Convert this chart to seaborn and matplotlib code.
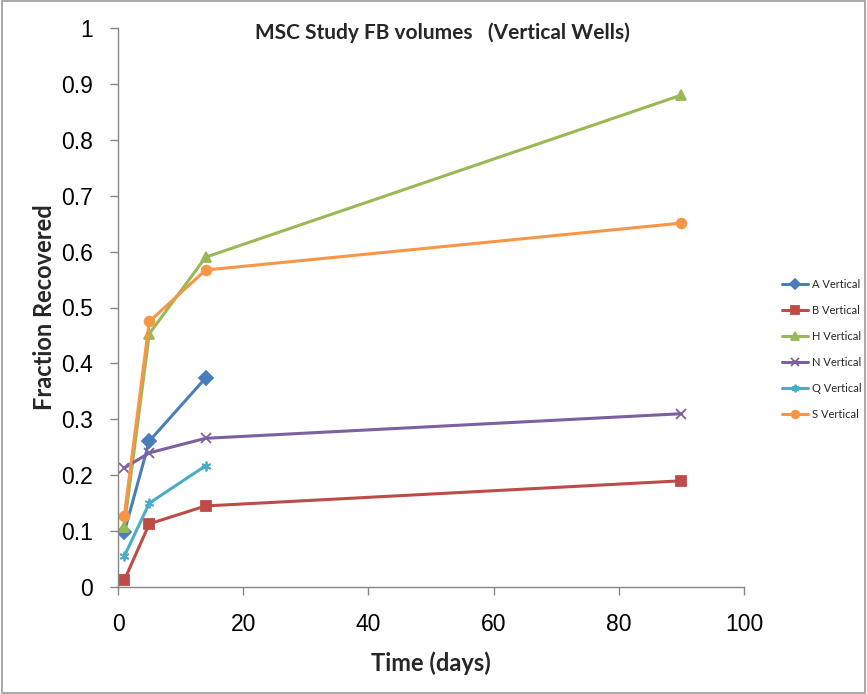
import pandas as pd
import matplotlib.pyplot as plt
import seaborn as sns
from matplotlib.ticker import FuncFormatter
from matplotlib.patches import Rectangle

# data
days = [1, 5, 14, 90]
a_vert = [0.098, 0.261, 0.374]
b_vert = [0.012, 0.113, 0.145, 0.190]
h_vert = [0.108, 0.453, 0.590, 0.880]
n_vert = [0.213, 0.240, 0.266, 0.310]
q_vert = [0.055, 0.150, 0.217]
s_vert = [0.127, 0.475, 0.567, 0.651]

series_names = ['A Vertical', 'B Vertical', 'H Vertical', 'N Vertical', 'Q Vertical', 'S Vertical']
series_vals = [a_vert, b_vert, h_vert, n_vert, q_vert, s_vert]

colors = ['#4A7EBB', '#BE4B48', '#98B954', '#7D60A0', '#4BACC6', '#F79646']
markers = ['D', 's', '^', 'x', (6, 2, 0), 'o']

sns.set_theme(style='white')
plt.rcParams['font.family'] = ['Lato', 'DejaVu Sans']

fig = plt.figure(figsize=(8.67, 6.94), dpi=100)
ax = fig.add_axes([118 / 867, 1 - 587 / 694, (744 - 118) / 867, (587 - 28) / 694])

for name, vals, c, m in zip(series_names, series_vals, colors, markers):
    d = pd.DataFrame({'days': days[:len(vals)], 'frac': vals})
    sns.lineplot(data=d, x='days', y='frac', color=c, marker=m, label=name,
                 linewidth=2.2, markersize=7, markeredgewidth=1.3,
                 markeredgecolor=c, ax=ax)

ax.set_xlim(0, 100)
ax.set_ylim(0, 1)
ax.set_xticks(range(0, 101, 20))
ax.set_yticks([i / 10 for i in range(11)])
ax.yaxis.set_major_formatter(FuncFormatter(lambda v, p: f'{v:g}'))
ax.tick_params(axis='both', labelsize=16.5, colors='#868686', labelcolor='black',
               direction='out', length=6, width=1, left=True, bottom=True)
ax.tick_params(axis='y', pad=12)
ax.tick_params(axis='x', pad=13)
for lab in ax.get_xticklabels() + ax.get_yticklabels():
    lab.set_family(['Liberation Sans', 'DejaVu Sans'])
for s in ['top', 'right']:
    ax.spines[s].set_visible(False)
for s in ['left', 'bottom']:
    ax.spines[s].set_color('#868686')
    ax.spines[s].set_linewidth(1)

ax.set_xlabel('Time (days)', fontsize=17, fontweight='bold', labelpad=11)
ax.set_ylabel('Fraction Recovered', fontsize=17, fontweight='bold', labelpad=4)
ax.set_title('MSC Study FB volumes   (Vertical Wells)', fontsize=15, fontweight='bold',
             x=0.519, y=0.995, va='top')

leg = ax.legend(loc='center left', bbox_to_anchor=(1.06, 0.425), frameon=False,
                borderaxespad=0, borderpad=0,
                fontsize=8, handlelength=2.4, labelspacing=1.35, handletextpad=0.3)
for h in leg.legend_handles:
    h.set_markersize(5.5)

fig.patches.append(Rectangle((0.002, 0.002), 0.996, 0.996, transform=fig.transFigure,
                             fill=False, edgecolor='#9a9a9a', linewidth=1.2))

fig.savefig('out.png', dpi=100)
